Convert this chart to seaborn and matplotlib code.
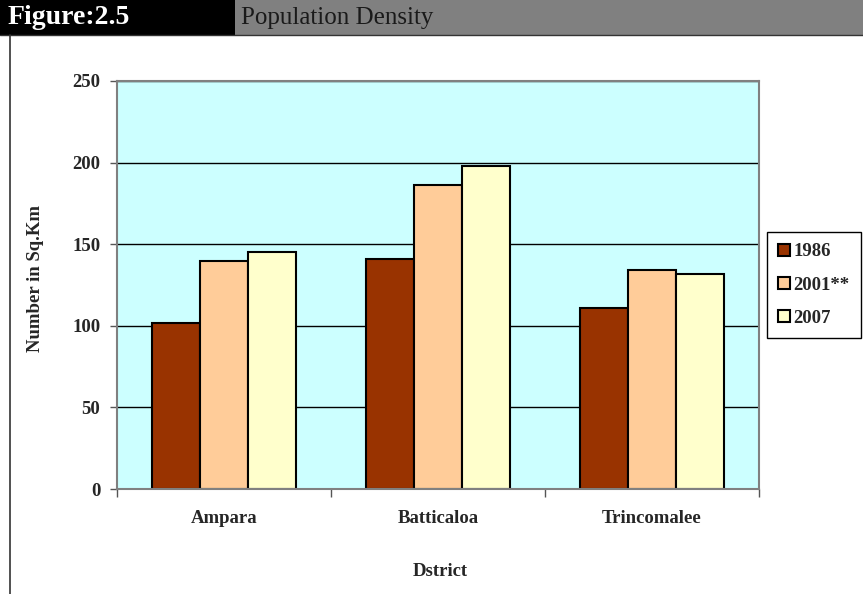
import matplotlib
matplotlib.use('Agg')
import matplotlib.pyplot as plt
import seaborn as sns
import pandas as pd
from matplotlib.patches import Rectangle
from matplotlib.lines import Line2D

# chart values
districts = ['Ampara', 'Batticaloa', 'Trincomalee']
years = ['1986', '2001**', '2007']
density_1986 = [102, 141, 111]
density_2001 = [140, 186, 134]
density_2007 = [145, 198, 132]
y_ticks = [0, 50, 100, 150, 200, 250]

colors = ['#993300', '#FFCC99', '#FFFFCC']

# long-form table for seaborn
rows = []
for year, vals in zip(years, [density_1986, density_2001, density_2007]):
    for d, v in zip(districts, vals):
        rows.append({'District': d, 'Year': year, 'Density': v})
df = pd.DataFrame(rows)

sns.set_style('white')
plt.rcParams['font.family'] = ['Liberation Serif', 'DejaVu Serif']

FS = 13.5
W, H = 863, 594
fig = plt.figure(figsize=(W / 100, H / 100), dpi=100)
ax = fig.add_axes([117 / W, 1 - 489 / H, (759 - 117) / W, (489 - 81) / H])
ax.set_facecolor('#CCFFFF')

sns.barplot(data=df, x='District', y='Density', hue='Year', palette=colors,
            saturation=1, width=0.67, edgecolor='black', linewidth=1.5,
            ax=ax, legend=True)

ax.set_ylim(0, 250)
ax.set_xlim(-0.5, 2.5)
ax.set_yticks(y_ticks)
ax.set_yticklabels([str(t) for t in y_ticks], fontsize=FS, fontweight='bold')
ax.yaxis.grid(True, color='black', linewidth=1)
ax.set_axisbelow(True)
ax.tick_params(axis='y', length=5, width=1, color='#555555', pad=7, left=True)

ax.set_xticks(range(len(districts)))
ax.set_xticklabels(districts, fontsize=FS, fontweight='bold')
ax.set_xticks([-0.5, 0.5, 1.5, 2.5], minor=True)
ax.tick_params(axis='x', which='major', length=0, pad=15)
ax.tick_params(axis='x', which='minor', length=6, width=1, color='#555555', bottom=True)

for s in ax.spines.values():
    s.set_color('#808080')
    s.set_linewidth(1.5)

ax.set_xlabel('')
ax.set_ylabel('')
fig.text(440 / W, 1 - 572 / H, 'Dstrict', ha='center', va='center',
         fontsize=FS, fontweight='bold')
fig.text(35 / W, 1 - 278 / H, 'Number in Sq.Km', ha='center', va='center',
         rotation=90, fontsize=FS, fontweight='bold')

# legend box to the right of the plot
handles, labels = ax.get_legend_handles_labels()
ax.legend(handles, labels, loc='upper left',
          bbox_to_anchor=(767 / W, 1 - 232 / H), bbox_transform=fig.transFigure,
          frameon=True, fancybox=False, edgecolor='black', framealpha=1,
          prop={'weight': 'bold', 'size': FS}, handlelength=0.6, handleheight=0.6,
          handletextpad=0.2, labelspacing=0.87, borderpad=0.6, borderaxespad=0)
ax.get_legend().get_frame().set_linewidth(1)

# header bar
fig.patches.append(Rectangle((0, 1 - 35 / H), 235 / W, 35 / H, facecolor='black',
                             edgecolor='none', transform=fig.transFigure, zorder=0))
fig.patches.append(Rectangle((235 / W, 1 - 35 / H), (W - 235) / W, 35 / H,
                             facecolor='#808080', edgecolor='none',
                             transform=fig.transFigure, zorder=0))
fig.text(8 / W, 1 - 18 / H, 'Figure:2.5', color='white', fontsize=20,
         fontweight='bold', ha='left', va='center')
fig.text(241 / W, 1 - 18 / H, 'Population Density', color='#1a1a1a', fontsize=18,
         ha='left', va='center')
fig.lines.append(Line2D([0, 1], [1 - 35 / H, 1 - 35 / H], color='#333333',
                        linewidth=1, transform=fig.transFigure))
fig.lines.append(Line2D([10 / W, 10 / W], [0, 1 - 35 / H], color='#333333',
                        linewidth=1.2, transform=fig.transFigure))

fig.savefig('out.png', dpi=100)
plt.close(fig)
